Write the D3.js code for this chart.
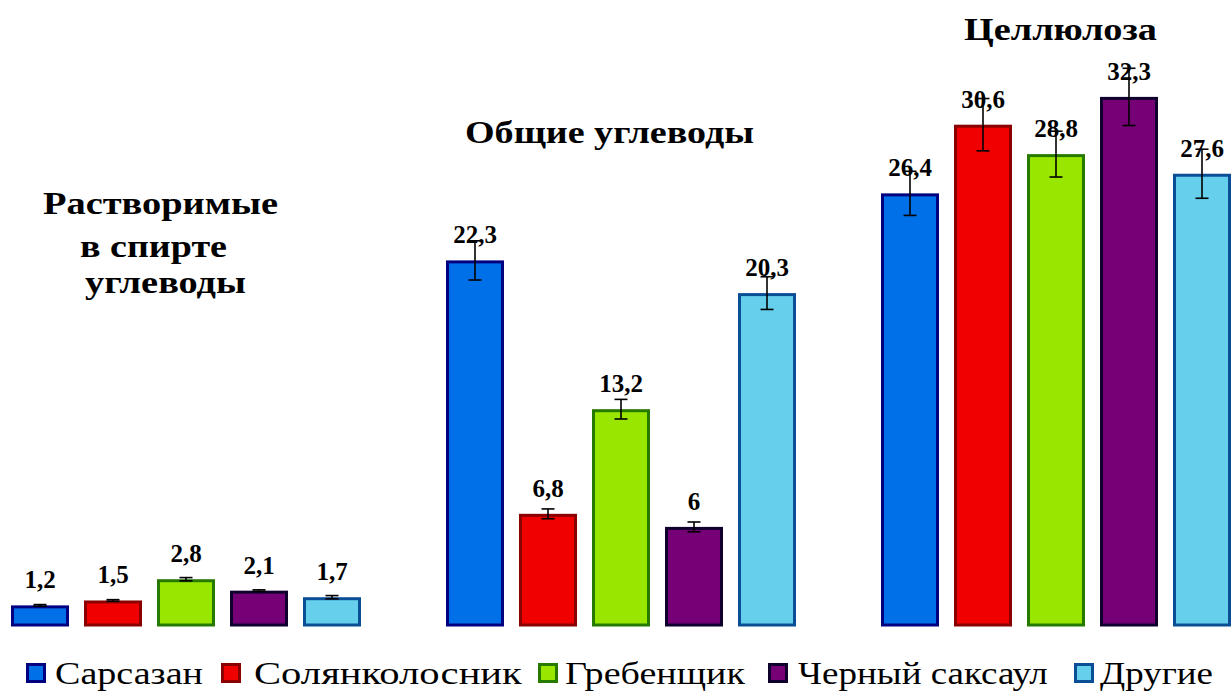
<!DOCTYPE html>
<html>
<head>
<meta charset="utf-8">
<script src="https://cdn.jsdelivr.net/npm/d3@7"></script>
<style>
  body { margin: 0; background: #fff; }
  svg { display: block; }
</style>
</head>
<body>
<div id="plot"></div>
<script>
var groups = ["Растворимые в спирте углеводы", "Общие углеводы", "Целлюлоза"];
var series = ["Сарсазан", "Солянколосник", "Гребенщик", "Черный саксаул", "Другие"];

var sarsazan   = [1.2, 22.3, 26.4];
var solyanko   = [1.5, 6.8, 30.6];
var grebenshik = [2.8, 13.2, 28.8];
var saksaul    = [2.1, 6, 32.3];
var drugie     = [1.7, 20.3, 27.6];

var errSarsazan   = [0.05, 1.2, 1.35];
var errSolyanko   = [0.05, 0.3, 1.6];
var errGrebenshik = [0.1, 0.6, 1.4];
var errSaksaul    = [0.05, 0.3, 1.75];
var errDrugie     = [0.1, 1.0, 1.5];

var values = [sarsazan, solyanko, grebenshik, saksaul, drugie];
var errors = [errSarsazan, errSolyanko, errGrebenshik, errSaksaul, errDrugie];

var fills   = ["#0070e8", "#f00000", "#99e600", "#760076", "#66d0ec"];
var strokes = ["#000080", "#8b0000", "#267a00", "#10002e", "#0a4f96"];

var serif = "'Liberation Serif', 'Times New Roman', serif";
var width = 1232, height = 691;

var svg = d3.select("#plot").append("svg")
  .attr("width", width).attr("height", height);

var x0 = d3.scaleBand().domain(groups).range([11, 1231]).paddingInner(85 / 435).paddingOuter(0);
var x1 = d3.scaleBand().domain(series).range([0, x0.bandwidth()]).paddingInner(15 / 73).paddingOuter(0);
var y = d3.scaleLinear().domain([0, 35]).range([625, 625 - 35 * 16.35]);

// flat table built from arrays
var rows = [];
groups.forEach(function(g, gi) {
  series.forEach(function(s, si) {
    rows.push({group: g, series: s, si: si, value: values[si][gi], err: errors[si][gi]});
  });
});

var sw = 3;
svg.selectAll(".bar").data(rows).enter().append("rect")
  .attr("class", "bar")
  .attr("x", function(d) { return x0(d.group) + x1(d.series) + sw / 2; })
  .attr("y", function(d) { return y(d.value) + sw / 2; })
  .attr("width", x1.bandwidth() - sw)
  .attr("height", function(d) { return y(0) - y(d.value) - sw / 2; })
  .attr("fill", function(d) { return fills[d.si]; })
  .attr("stroke", function(d) { return strokes[d.si]; })
  .attr("stroke-width", sw);

// error bars
var eb = svg.selectAll(".err").data(rows).enter().append("g").attr("class", "err")
  .attr("stroke", "#000").attr("stroke-width", 1.6);
function cx(d) { return x0(d.group) + x1(d.series) + x1.bandwidth() / 2; }
eb.append("line")
  .attr("x1", cx).attr("x2", cx)
  .attr("y1", function(d) { return y(d.value + d.err); })
  .attr("y2", function(d) { return y(d.value - d.err); });
eb.append("line")
  .attr("x1", function(d) { return cx(d) - 6.5; }).attr("x2", function(d) { return cx(d) + 6.5; })
  .attr("y1", function(d) { return y(d.value + d.err); })
  .attr("y2", function(d) { return y(d.value + d.err); });
eb.append("line")
  .attr("x1", function(d) { return cx(d) - 6.5; }).attr("x2", function(d) { return cx(d) + 6.5; })
  .attr("y1", function(d) { return y(d.value - d.err); })
  .attr("y2", function(d) { return y(d.value - d.err); });

// value labels
svg.selectAll(".lbl").data(rows).enter().append("text")
  .attr("class", "lbl")
  .attr("x", cx)
  .attr("y", function(d) { return y(d.value) - 17; })
  .attr("text-anchor", "middle")
  .style("font-family", serif)
  .attr("font-weight", "bold")
  .attr("font-size", "25px")
  .attr("fill", "#000")
  .text(function(d) { return String(d.value).replace(".", ","); });

// stretch a text horizontally to a target width (the picture is widened)
function fit(sel) {
  sel.each(function(d) {
    var w0 = this.getComputedTextLength();
    d3.select(this).attr("transform",
      "translate(" + d.x + "," + d.y + ") scale(" + (d.w / w0) + ",1)");
  });
}

// group titles
var titles = [
  {t: "Растворимые", x: 43, y: 214, w: 235},
  {t: "в спирте", x: 80, y: 257, w: 147},
  {t: "углеводы", x: 85, y: 293, w: 161},
  {t: "Общие углеводы", x: 465, y: 143, w: 289},
  {t: "Целлюлоза", x: 964, y: 40, w: 193}
];
svg.selectAll(".title").data(titles).enter().append("text")
  .attr("class", "title")
  .style("font-family", serif)
  .attr("font-weight", "bold")
  .attr("font-size", "32px")
  .attr("fill", "#000")
  .text(function(d) { return d.t; })
  .call(fit);

// legend
var legPos = [
  {mx: 26, x: 55, w: 148},
  {mx: 221, x: 254, w: 268},
  {mx: 538, x: 565, w: 180},
  {mx: 768, x: 798, w: 250},
  {mx: 1074, x: 1100, w: 113}
];
var legData = series.map(function(s, i) {
  return {t: s, i: i, mx: legPos[i].mx, x: legPos[i].x, y: 684, w: legPos[i].w};
});
var leg = svg.selectAll(".leg").data(legData).enter().append("g").attr("class", "leg");
leg.append("rect")
  .attr("x", function(d) { return d.mx + 1.5; })
  .attr("y", 664.5)
  .attr("width", 17).attr("height", 17)
  .attr("fill", function(d) { return fills[d.i]; })
  .attr("stroke", function(d) { return strokes[d.i]; })
  .attr("stroke-width", 3);
leg.append("text")
  .style("font-family", serif)
  .attr("font-size", "31px")
  .attr("fill", "#000")
  .text(function(d) { return d.t; })
  .call(fit);
</script>
</body>
</html>
